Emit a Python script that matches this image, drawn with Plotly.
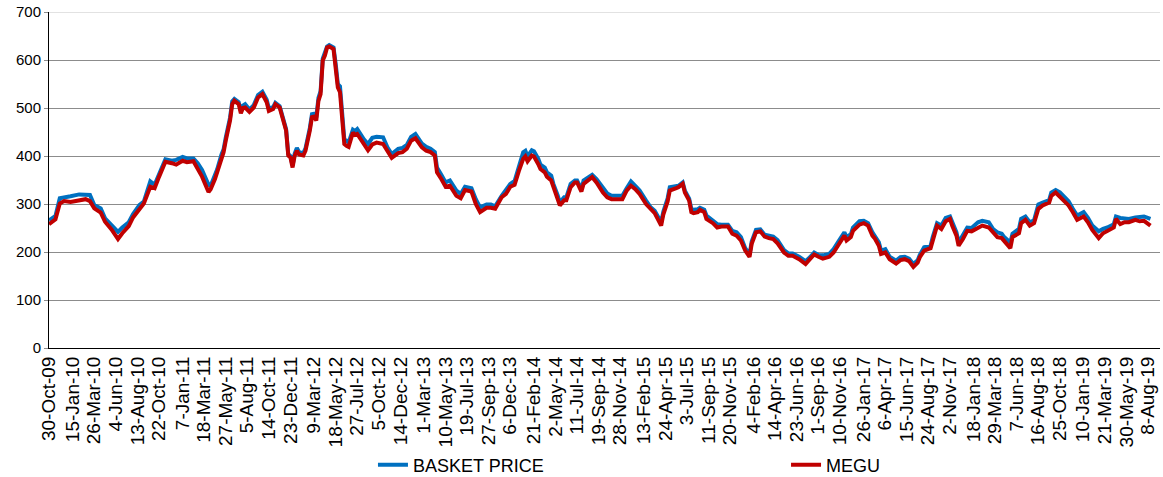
import pandas as pd
import plotly.graph_objects as go

# Sample positions, in weeks after the first observation (30-Oct-2009)
start_date = "2009-10-30"
weeks = [0, 3, 5, 7, 10, 14, 17, 19, 21, 24, 26, 29, 32, 34, 37, 39, 42, 44, 47, 49,
         51, 54, 57, 59, 62, 64, 67, 69, 71, 74, 75, 77, 78, 80, 81, 82, 84, 85, 86, 88,
         89, 90, 91, 93, 95, 97, 99, 101, 102, 104, 105, 107, 108, 110, 111, 112, 113, 114, 115, 116,
         118, 119, 121, 122, 123, 124, 125, 126, 127, 128, 129, 130, 132, 133, 134, 135, 136, 137, 138, 139,
         141, 142, 143, 145, 146, 148, 150, 152, 155, 157, 159, 162, 164, 166, 168, 170, 173, 175, 177, 179,
         180, 182, 184, 186, 189, 191, 193, 196, 198, 200, 203, 205, 207, 210, 212, 214, 216, 218, 220, 221,
         222, 224, 225, 227, 228, 230, 231, 233, 234, 236, 237, 239, 240, 242, 244, 245, 247, 248, 250, 252,
         254, 257, 259, 261, 264, 266, 268, 270, 272, 274, 277, 279, 281, 284, 285, 287, 288, 291, 292, 294,
         295, 297, 298, 299, 301, 302, 304, 305, 308, 310, 312, 315, 317, 319, 321, 323, 325, 326, 328, 330,
         332, 334, 336, 338, 341, 343, 345, 348, 351, 353, 355, 357, 359, 362, 364, 366, 369, 370, 372, 373,
         376, 378, 380, 382, 383, 385, 386, 388, 390, 393, 395, 397, 399, 401, 403, 404, 406, 409, 410, 412,
         414, 416, 418, 419, 421, 422, 424, 426, 428, 431, 433, 436, 438, 440, 442, 443, 446, 447, 450, 451,
         453, 455, 457, 459, 461, 464, 465, 467, 469, 471, 473, 475, 477, 480, 482, 484, 487, 489, 491, 494,
         495, 497, 499, 501, 504, 506, 508, 511]

basket_price = [266, 275, 312, 313, 316, 320, 320, 319, 298, 291, 270, 256, 242, 251, 262, 279, 298, 305, 347, 340,
                361, 393, 390, 392, 398, 395, 395, 385, 371, 340, 338, 358, 372, 403, 414, 438, 480, 514, 519, 512,
                495, 505, 508, 497, 506, 527, 534, 517, 499, 502, 511, 504, 490, 456, 404, 400, 380, 405, 417, 408,
                406, 416, 458, 487, 488, 480, 521, 535, 603, 613, 628, 631, 626, 592, 550, 545, 495, 435, 432, 428,
                455, 452, 456, 442, 435, 425, 438, 440, 439, 418, 404, 415, 417, 423, 440, 446, 426, 419, 415, 408,
                376, 361, 345, 349, 328, 321, 336, 333, 310, 293, 299, 299, 295, 317, 328, 342, 348, 380, 408, 411,
                399, 412, 410, 394, 382, 376, 366, 359, 342, 318, 303, 314, 314, 342, 349, 349, 331, 349, 356, 361,
                352, 333, 322, 317, 317, 317, 333, 347, 338, 328, 307, 294, 286, 262, 284, 312, 335, 336, 338, 345,
                328, 311, 290, 288, 289, 292, 288, 276, 265, 258, 257, 257, 244, 241, 231, 208, 194, 222, 246, 247,
                236, 234, 232, 225, 204, 197, 197, 190, 181, 189, 199, 194, 193, 196, 206, 220, 241, 231, 237, 251,
                264, 265, 260, 241, 235, 220, 203, 206, 190, 182, 189, 190, 186, 175, 183, 194, 210, 213, 231, 260,
                255, 271, 274, 262, 241, 220, 234, 251, 250, 262, 265, 262, 248, 241, 238, 232, 220, 238, 248, 269,
                274, 262, 266, 299, 303, 308, 324, 329, 324, 315, 306, 290, 276, 283, 271, 255, 243, 248, 251, 258,
                274, 271, 271, 269, 272, 274, 274, 269]

megu = [258, 268, 301, 306, 304, 308, 310, 306, 291, 282, 263, 247, 227, 239, 254, 272, 289, 301, 336, 333,
        356, 388, 385, 382, 390, 387, 389, 374, 357, 325, 331, 352, 366, 397, 408, 432, 474, 508, 515, 508,
        489, 500, 501, 492, 501, 522, 529, 512, 494, 498, 508, 501, 487, 453, 401, 397, 376, 401, 411, 403,
        401, 411, 453, 481, 482, 474, 515, 529, 599, 609, 626, 628, 623, 588, 543, 533, 487, 425, 421, 419,
        449, 444, 446, 432, 425, 412, 424, 428, 425, 411, 396, 406, 408, 415, 432, 437, 418, 411, 408, 401,
        366, 352, 336, 338, 317, 312, 329, 326, 300, 283, 292, 292, 290, 314, 321, 336, 340, 369, 394, 399,
        389, 401, 399, 383, 373, 366, 357, 349, 335, 310, 297, 308, 308, 335, 345, 345, 326, 342, 349, 356,
        345, 324, 314, 310, 310, 310, 328, 338, 331, 321, 300, 290, 281, 255, 278, 305, 328, 333, 335, 342,
        324, 307, 283, 281, 283, 288, 283, 269, 260, 251, 253, 253, 238, 234, 224, 203, 190, 217, 241, 243,
        232, 229, 227, 218, 199, 192, 192, 185, 175, 185, 195, 190, 186, 190, 199, 213, 234, 224, 231, 244,
        257, 260, 255, 234, 229, 213, 196, 199, 185, 176, 183, 185, 181, 169, 178, 189, 203, 208, 224, 255,
        248, 264, 269, 255, 234, 213, 227, 244, 243, 251, 255, 251, 241, 231, 229, 224, 208, 231, 239, 260,
        267, 255, 260, 290, 297, 303, 317, 324, 315, 306, 297, 283, 267, 274, 262, 246, 229, 239, 244, 251,
        269, 258, 262, 262, 267, 264, 265, 255]

tick_dates = ["2009-10-30", "2010-01-15", "2010-03-26", "2010-06-04", "2010-08-13", "2010-10-22",
              "2011-01-07", "2011-03-18", "2011-05-27", "2011-08-05", "2011-10-14", "2011-12-23",
              "2012-03-09", "2012-05-18", "2012-07-27", "2012-10-05", "2012-12-14", "2013-03-01",
              "2013-05-10", "2013-07-19", "2013-09-27", "2013-12-06", "2014-02-21", "2014-05-02",
              "2014-07-11", "2014-09-19", "2014-11-28", "2015-02-13", "2015-04-24", "2015-07-03",
              "2015-09-11", "2015-11-20", "2016-02-04", "2016-04-14", "2016-06-23", "2016-09-01",
              "2016-11-10", "2017-01-26", "2017-04-06", "2017-06-15", "2017-08-24", "2017-11-02",
              "2018-01-18", "2018-03-29", "2018-06-07", "2018-08-16", "2018-10-25", "2019-01-10",
              "2019-03-21", "2019-05-30", "2019-08-08"]
tick_labels = ["30-Oct-09", "15-Jan-10", "26-Mar-10", "4-Jun-10", "13-Aug-10", "22-Oct-10",
               "7-Jan-11", "18-Mar-11", "27-May-11", "5-Aug-11", "14-Oct-11", "23-Dec-11",
               "9-Mar-12", "18-May-12", "27-Jul-12", "5-Oct-12", "14-Dec-12", "1-Mar-13",
               "10-May-13", "19-Jul-13", "27-Sep-13", "6-Dec-13", "21-Feb-14", "2-May-14",
               "11-Jul-14", "19-Sep-14", "28-Nov-14", "13-Feb-15", "24-Apr-15", "3-Jul-15",
               "11-Sep-15", "20-Nov-15", "4-Feb-16", "14-Apr-16", "23-Jun-16", "1-Sep-16",
               "10-Nov-16", "26-Jan-17", "6-Apr-17", "15-Jun-17", "24-Aug-17", "2-Nov-17",
               "18-Jan-18", "29-Mar-18", "7-Jun-18", "16-Aug-18", "25-Oct-18", "10-Jan-19",
               "21-Mar-19", "30-May-19", "8-Aug-19"]
y_ticks = [0, 100, 200, 300, 400, 500, 600, 700]

dates = pd.Timestamp(start_date) + pd.to_timedelta([w * 7 for w in weeks], unit="D")

FONT = "Liberation Sans, Arial, sans-serif"

fig = go.Figure()
fig.add_trace(go.Scatter(x=dates, y=basket_price, mode="lines", name="BASKET PRICE",
                         line=dict(color="#0070C0", width=4), legend="legend"))
fig.add_trace(go.Scatter(x=dates, y=megu, mode="lines", name="MEGU",
                         line=dict(color="#C00000", width=4), legend="legend2"))

legend_common = dict(orientation="h", y=-0.348, yanchor="middle", xanchor="left",
                     font=dict(size=18, family=FONT, color="#000000"),
                     itemwidth=30, bgcolor="rgba(0,0,0,0)")

fig.update_layout(
    width=1163, height=477,
    margin=dict(l=49, r=3, t=12, b=129, autoexpand=False),
    paper_bgcolor="white", plot_bgcolor="white",
    font=dict(family=FONT, color="#000000", size=15),
    showlegend=True,
    legend=dict(x=0.2916, **legend_common),
    legend2=dict(x=0.6634, **legend_common),
    shapes=[dict(type="line", xref="paper", x0=0, x1=1, yref="y", y0=700, y1=700,
                 line=dict(color="#d9d9d9", width=1.5), layer="below")],
)
fig.update_xaxes(
    type="date", range=["2009-10-30", "2019-09-16"], automargin=False,
    tickmode="array", tickvals=tick_dates, ticktext=tick_labels, tickangle=-90,
    tickfont=dict(size=19, family=FONT, color="#000000"),
    showgrid=False, showline=True, linecolor="#000000", linewidth=1,
    ticks="", zeroline=False,
)
fig.update_yaxes(
    range=[0, 700], tickmode="array", tickvals=y_ticks, automargin=False,
    tickfont=dict(size=15, family=FONT, color="#000000"),
    showgrid=True, gridcolor="#8c8c8c", gridwidth=1,
    showline=True, linecolor="#000000", linewidth=1,
    ticks="outside", ticklen=4, tickcolor="#8c8c8c", zeroline=False,
)

fig.write_html(
    "out.html",
    config={"displayModeBar": False},
    post_script="document.body.style.margin='0';document.body.style.overflow='hidden';",
)
